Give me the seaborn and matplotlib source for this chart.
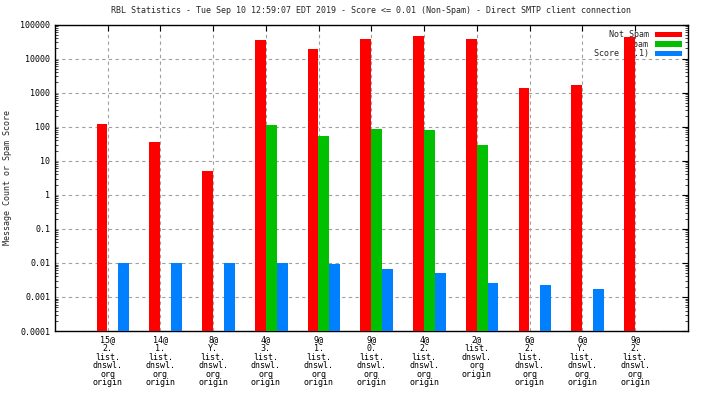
import numpy as np
import pandas as pd
import matplotlib
matplotlib.use("Agg")
import matplotlib.pyplot as plt
import seaborn as sns
from matplotlib.ticker import FixedLocator, LogLocator, NullFormatter

# RBL list entries (one per cluster)
categories = [
    "15@\n2.\nlist.\ndnswl.\norg\norigin",
    "14@\n1.\nlist.\ndnswl.\norg\norigin",
    "8@\nY.\nlist.\ndnswl.\norg\norigin",
    "4@\n3.\nlist.\ndnswl.\norg\norigin",
    "9@\n1.\nlist.\ndnswl.\norg\norigin",
    "9@\n0.\nlist.\ndnswl.\norg\norigin",
    "4@\n2.\nlist.\ndnswl.\norg\norigin",
    "2@\nlist.\ndnswl.\norg\norigin",
    "6@\n2.\nlist.\ndnswl.\norg\norigin",
    "6@\nY.\nlist.\ndnswl.\norg\norigin",
    "9@\n2.\nlist.\ndnswl.\norg\norigin",
]
not_spam = [117, 35, 4.9, 34500, 18800, 37000, 45500, 37000, 1340, 1640, 43500]
spam = [np.nan, np.nan, np.nan, 115, 55, 84, 78, 30, np.nan, np.nan, np.nan]
score = [0.01, 0.01, 0.01, 0.01, 0.0096, 0.0068, 0.0052, 0.0025, 0.0023, 0.00177, np.nan]

series_names = ["Not Spam", "Spam", "Score (0.1)"]
colors = ["#ff0000", "#00c000", "#0080ff"]

rows = []
for i in range(len(categories)):
    for name, vals in zip(series_names, [not_spam, spam, score]):
        if not np.isnan(vals[i]):
            rows.append({"pos": i + 0.1, "series": name, "value": vals[i]})
df = pd.DataFrame(rows)

sns.set_style("white")
plt.rcParams["font.family"] = ["DejaVu Sans Mono"]
plt.rcParams["font.size"] = 6

fig = plt.figure(figsize=(7.04, 3.96), dpi=100)
ax = fig.add_axes([0.078, 0.164, 0.899, 0.774])
ax.set_yscale("log")

sns.barplot(data=df, x="pos", y="value", hue="series", hue_order=series_names,
            palette=colors, native_scale=True, width=0.62, dodge=True,
            saturation=1, errorbar=None, ax=ax)

for b in ax.patches:
    b.set_edgecolor("none")
    b.set_zorder(3)

ax.set_xlim(-1, 11)
ax.set_ylim(0.0001, 100000)
ax.set_xticks(range(len(categories)))
ax.set_xticklabels(categories, linespacing=0.95)
yt = [10.0 ** k for k in range(-4, 6)]
ax.yaxis.set_major_locator(FixedLocator(yt))
ax.set_yticklabels(["0.0001", "0.001", "0.01", "0.1", "1", "10", "100", "1000", "10000", "100000"])
ax.yaxis.set_minor_locator(LogLocator(base=10, subs=np.arange(2, 10), numticks=20))
ax.yaxis.set_minor_formatter(NullFormatter())
ax.tick_params(axis="both", which="major", direction="in", length=4, width=0.8,
               top=True, right=True, labelsize=6, colors="black")
ax.tick_params(axis="y", which="minor", direction="in", length=2, width=0.6, left=True, right=True)
ax.tick_params(axis="x", pad=3)

ax.grid(True, which="major", color="#a0a0a0", linestyle=(0, (3, 3)), linewidth=0.8)
ax.set_axisbelow(True)
for s in ax.spines.values():
    s.set_color("black")
    s.set_linewidth(1)

ax.set_xlabel("")
ax.set_ylabel("Message Count or Spam Score", fontsize=6, labelpad=6)
ax.set_title("RBL Statistics - Tue Sep 10 12:59:07 EDT 2019 - Score <= 0.01 (Non-Spam) - Direct SMTP client connection",
             fontsize=6, pad=8)

handles, labels = ax.get_legend_handles_labels()
leg = ax.legend(handles, labels, loc="upper right", frameon=False, markerfirst=False,
                fontsize=6, handlelength=3.2, handleheight=0.6, labelspacing=0.05,
                handletextpad=0.8, borderaxespad=0.3)
leg.set_zorder(2)

fig.savefig("out.png", dpi=100)
